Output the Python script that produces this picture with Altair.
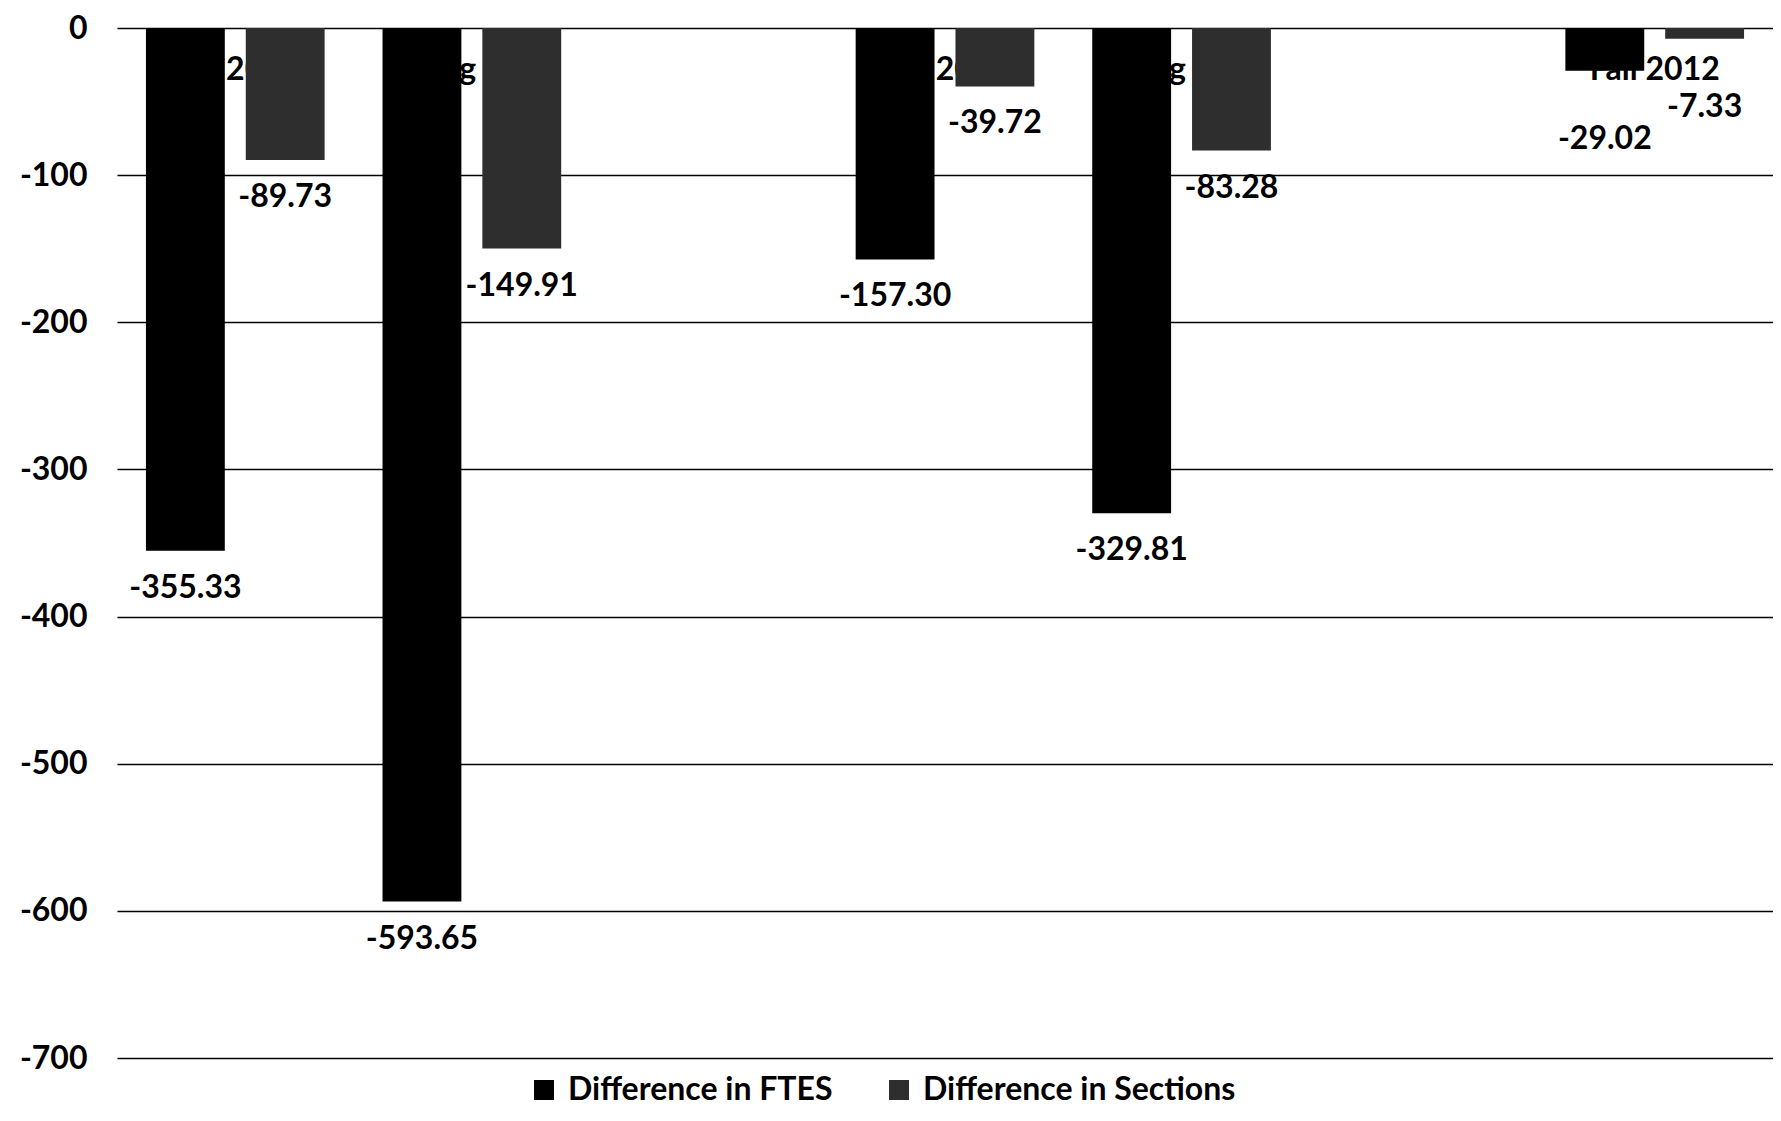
import altair as alt
import pandas as pd

# ---- data ----
slots = ["Fall 2010", "Spring 2011", " ", "Fall 2011", "Spring 2012", "  ", "Fall 2012"]
terms = ["Fall 2010", "Spring 2011", "Fall 2011", "Spring 2012", "Fall 2012"]
ftes = [-355.33, -593.65, -157.30, -329.81, -29.02]
sections = [-89.73, -149.91, -39.72, -83.28, -7.33]
series = ["Difference in FTES", "Difference in Sections"]
colors = ["#000000", "#2e2e2e"]
y_ticks = [0, -100, -200, -300, -400, -500, -600, -700]

rows = []
for t, f, s in zip(terms, ftes, sections):
    rows.append({"term": t, "series": series[0], "value": f, "label": f"{f:.2f}"})
    rows.append({"term": t, "series": series[1], "value": s, "label": f"{s:.2f}"})
df = pd.DataFrame(rows)
cat_df = pd.DataFrame({"term": slots, "value": [0] * len(slots)})

FONT = "Lato"
FS = 32

x_enc = alt.X("term:N", scale=alt.Scale(domain=slots, paddingInner=0, paddingOuter=0), axis=None)
xo_enc = alt.XOffset("series:N", scale=alt.Scale(domain=series, paddingInner=0.21, paddingOuter=0.29))
y_scale = alt.Scale(domain=[-700, 0], nice=False, zero=False)
y_axis = alt.Axis(values=y_ticks, title=None, grid=True, gridColor="black",
                  gridWidth=1.5, gridOpacity=1, domain=False, ticks=False,
                  labelFont=FONT, labelFontSize=FS, labelFontWeight="bold",
                  labelColor="black", labelPadding=30,
                  labelExpr="datum.value + ''")
y_enc = alt.Y("value:Q", scale=y_scale, axis=y_axis)

cat_labels = alt.Chart(cat_df).mark_text(
    font=FONT, fontSize=FS, fontWeight="bold", color="black",
    baseline="middle", align="center", dy=42
).encode(
    x=x_enc,
    y=y_enc,
    text="term:N",
)

bars = alt.Chart(df).mark_bar().encode(
    x=x_enc,
    xOffset=xo_enc,
    y=y_enc,
    color=alt.Color("series:N", scale=alt.Scale(domain=series, range=colors),
                    legend=alt.Legend(orient="none", legendX=411, legendY=1046,
                                      direction="horizontal", columns=2, title=None,
                                      symbolType="square", symbolSize=400,
                                      symbolStrokeWidth=0, labelFont=FONT,
                                      labelFontSize=FS, labelFontWeight="bold",
                                      labelColor="black", columnPadding=50,
                                      labelOffset=8, labelLimit=0)),
)

base_text = alt.Chart(df).encode(
    x=x_enc,
    xOffset=xo_enc,
    y=y_enc,
    text="label:N",
)

val_labels = base_text.transform_filter(alt.datum.term != "Fall 2012").mark_text(
    font=FONT, fontSize=FS, fontWeight="bold", color="black",
    baseline="middle", align="center", dy=37
)
val_labels_last = base_text.transform_filter(alt.datum.term == "Fall 2012").mark_text(
    font=FONT, fontSize=FS, fontWeight="bold", color="black",
    baseline="middle", align="center", dy=68
)

chart = alt.layer(cat_labels, bars, val_labels, val_labels_last).properties(
    width=1656, height=1030,
    padding={"left": 109, "top": 20, "right": 0, "bottom": 55},
    autosize=alt.AutoSizeParams(type="none"),
    background="white",
).configure_view(stroke=None)

chart.save("out.html", embed_options={"renderer": "svg", "actions": False})
